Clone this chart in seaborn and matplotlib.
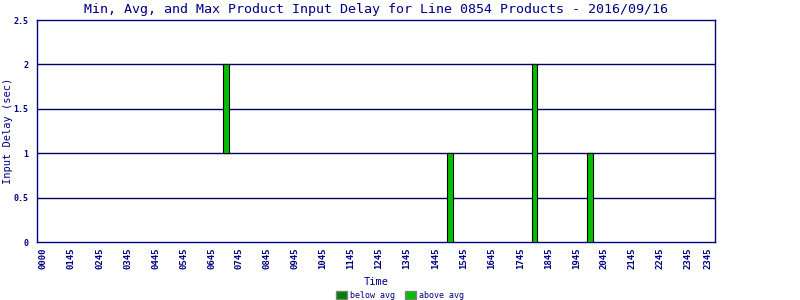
import matplotlib
matplotlib.use("Agg")
import matplotlib.pyplot as plt
import seaborn as sns
import pandas as pd
from matplotlib.patches import Patch

sns.set_theme(style="white")
plt.rcParams['font.family'] = ['DejaVu Sans Mono', 'DejaVu Sans']

# Data (x in hours of day)
bar_times = [6.69, 14.62, 17.60, 19.57]
min_vals = [1.0, 0.0, 0.0, 0.0]
avg_vals = [1.0, 0.0, 0.0, 0.0]
max_vals = [2.0, 1.0, 2.0, 1.0]

tick_pos = [0.21, 1.21, 2.23, 3.22, 4.22, 5.21, 6.2, 7.17, 8.15, 9.14, 10.12, 11.11,
            12.1, 13.09, 14.1, 15.11, 16.1, 17.1, 18.1, 19.08, 20.07, 21.06, 22.05, 23.04, 23.75]
tick_labels = ["0000", "0145", "0245", "0345", "0445", "0545", "0645", "0745", "0845",
               "0945", "1045", "1145", "1245", "1345", "1445", "1545", "1645", "1745",
               "1845", "1945", "2045", "2145", "2245", "2345", "2345"]
y_ticks = [0, 0.5, 1, 1.5, 2, 2.5]
y_tick_labels = ["0", "0.5", "1", "1.5", "2", "2.5"]

df = pd.DataFrame({"time": bar_times, "min": min_vals, "avg": avg_vals, "max": max_vals})
df["below"] = df["avg"] - df["min"]
df["above"] = df["max"] - df["avg"]

navy = "#000080"
dark_green = "#007F00"
bright_green = "#00BF00"

fig = plt.figure(figsize=(8, 3), dpi=100)
ax = fig.add_axes([0.046, 0.193, 0.848, 0.74])

bw = 0.19
ax.bar(df["time"], df["below"], bottom=df["min"], width=bw, color=dark_green,
       edgecolor="black", linewidth=0.8, zorder=3)
ax.bar(df["time"], df["above"], bottom=df["avg"], width=bw, color=bright_green,
       edgecolor="black", linewidth=0.8, zorder=3)

ax.set_xlim(0, 24)
ax.set_ylim(0, 2.5)
for yv in [0.5, 1, 1.5, 2]:
    ax.axhline(yv, color="#00006A", linewidth=1.0, zorder=1)

ax.tick_params(axis="x", colors=navy, labelsize=6.5, length=0, pad=4, labelrotation=90)
ax.tick_params(axis="y", colors=navy, labelsize=6, length=4, width=1, direction="out", pad=2)
ax.set_yticks(y_ticks)
ax.set_yticklabels(y_tick_labels, fontweight="bold", color=navy)
ax.set_xticks(tick_pos)
ax.set_xticklabels(tick_labels, rotation=90, fontweight="bold", color=navy)

for s in ax.spines.values():
    s.set_color(navy)
    s.set_linewidth(1.0)
    s.set_visible(True)

ax.set_title("Min, Avg, and Max Product Input Delay for Line 0854 Products - 2016/09/16",
             color=navy, fontsize=9.6, pad=5)
ax.set_ylabel("Input Delay (sec)", color=navy, fontsize=7.5)
ax.yaxis.set_label_coords(-0.035, 0.5)
ax.set_xlabel("Time", color=navy, fontsize=7.5)
ax.xaxis.set_label_coords(0.5, -0.158)

handles = [Patch(facecolor=dark_green, edgecolor="gray", label="below avg"),
           Patch(facecolor=bright_green, edgecolor="gray", label="above avg")]
leg = fig.legend(handles=handles, loc="lower center", bbox_to_anchor=(0.5, -0.025), ncol=2,
                 frameon=False, fontsize=6, handlelength=1.3, handleheight=1.0,
                 columnspacing=1.2, handletextpad=0.4)
for t in leg.get_texts():
    t.set_color(navy)

fig.savefig("out.png", dpi=100, facecolor="white")
